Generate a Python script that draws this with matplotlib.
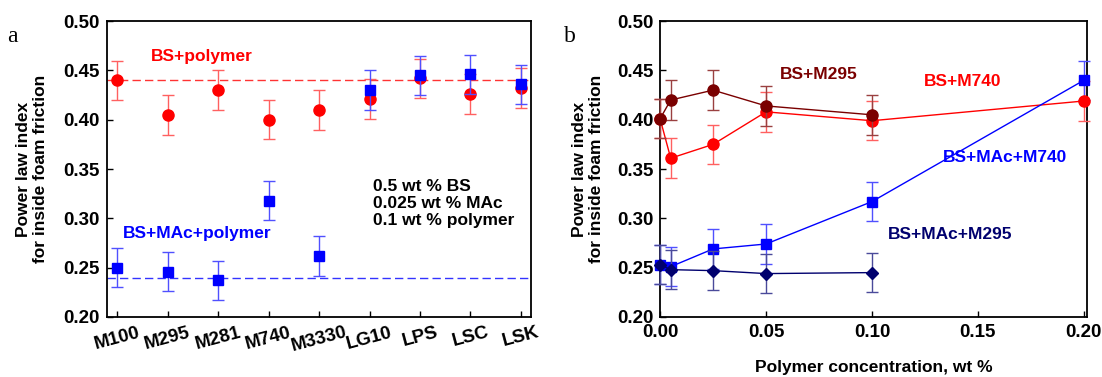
import numpy as np
import matplotlib.pyplot as plt

plt.rcParams['font.family'] = ['Liberation Sans', 'DejaVu Sans']
plt.rcParams['font.weight'] = 'bold'

# panel a
polymers = ['M100', 'M295', 'M281', 'M740', 'M3330', 'LG10', 'LPS', 'LSC', 'LSK']
bs_poly = [0.440, 0.405, 0.430, 0.400, 0.410, 0.421, 0.442, 0.426, 0.432]
bs_mac_poly = [0.250, 0.246, 0.237, 0.318, 0.262, 0.430, 0.445, 0.446, 0.436]
err_a = 0.02
ref_bs = 0.44
ref_bs_mac = 0.24

# panel b
conc = [0.0, 0.005, 0.025, 0.05, 0.10, 0.20]
bs_m295 = [0.401, 0.420, 0.430, 0.414, 0.405]
bs_m740 = [0.401, 0.361, 0.375, 0.408, 0.399, 0.419]
bs_mac_m740 = [0.253, 0.251, 0.269, 0.274, 0.317, 0.440]
bs_mac_m295 = [0.253, 0.248, 0.247, 0.244, 0.245]
err_b = 0.02

RED = '#ff0000'
BLUE = '#0000ff'
DRED = '#7a0000'
NAVY = '#00006e'

fig = plt.figure(figsize=(11.02, 3.77), dpi=100)
ax1 = fig.add_axes([0.0971, 0.1592, 0.3848, 0.7848])
ax2 = fig.add_axes([0.5990, 0.1592, 0.3874, 0.7848])

# ---- panel a
xa = np.arange(len(polymers))
ax1.axhline(ref_bs, color=RED, lw=1, ls=(0, (6, 3)), alpha=0.8, zorder=1)
ax1.axhline(ref_bs_mac, color=BLUE, lw=1, ls=(0, (6, 3)), alpha=0.8, zorder=1)
ax1.errorbar(xa, bs_poly, yerr=err_a, fmt='o', color=RED, ms=8,
             ecolor='#ff6060', elinewidth=1, capsize=4, capthick=1, zorder=3)
ax1.errorbar(xa, bs_mac_poly, yerr=err_a, fmt='s', color=BLUE, ms=7,
             ecolor='#5050ff', elinewidth=1, capsize=4, capthick=1, zorder=4)
ax1.set_xlim(-0.2, 8.2)
ax1.set_ylim(0.2, 0.5)
ax1.set_xticks(xa)
ax1.set_xticklabels(polymers, rotation=15, ha='center')
ax1.set_yticks([0.20, 0.25, 0.30, 0.35, 0.40, 0.45, 0.50])
ax1.set_yticklabels(['%.2f' % v for v in ax1.get_yticks()])
ax1.text(1.68, 0.464, 'BS+polymer', color=RED, fontsize=12.5, fontweight='bold',
         ha='center', va='center')
ax1.text(1.59, 0.285, 'BS+MAc+polymer', color=BLUE, fontsize=12.5, fontweight='bold',
         ha='center', va='center')
ax1.text(5.07, 0.315, '0.5 wt % BS\n0.025 wt % MAc\n0.1 wt % polymer',
         color='black', fontsize=12.5, fontweight='bold', ha='left', va='center',
         linespacing=1.2)
ax1.set_ylabel('Power law index\nfor inside foam friction', fontsize=12.5,
               fontweight='bold', labelpad=11)
ax1.text(-0.235, 0.985, 'a', transform=ax1.transAxes, fontsize=17,
         family='Liberation Serif', fontweight='normal', va='top')

# ---- panel b
kw = dict(lw=1, elinewidth=1, capsize=4, capthick=1, clip_on=False)
ax2.errorbar(conc, bs_m740, yerr=err_b, fmt='-o', color=RED, ms=8,
             ecolor='#ff6060', zorder=3, **kw)
ax2.errorbar(conc[:5], bs_m295, yerr=err_b, fmt='-o', color=DRED, ms=8,
             ecolor='#9a4040', zorder=4, **kw)
ax2.errorbar(conc, bs_mac_m740, yerr=err_b, fmt='-s', color=BLUE, ms=7,
             ecolor='#5050ff', zorder=3, **kw)
ax2.errorbar(conc[:5], bs_mac_m295, yerr=err_b, fmt='-D', color=NAVY, ms=6.5,
             ecolor='#4a4a9a', zorder=4, **kw)
ax2.set_xlim(0.0, 0.2015)
ax2.set_ylim(0.2, 0.5)
ax2.set_xticks([0.0, 0.05, 0.10, 0.15, 0.20])
ax2.set_xticklabels(['0.00', '0.05', '0.10', '0.15', '0.20'])
ax2.set_yticks([0.20, 0.25, 0.30, 0.35, 0.40, 0.45, 0.50])
ax2.set_yticklabels(['%.2f' % v for v in ax2.get_yticks()])
ax2.text(0.0747, 0.446, 'BS+M295', color=DRED, fontsize=12.5, fontweight='bold',
         ha='center', va='center')
ax2.text(0.143, 0.439, 'BS+M740', color=RED, fontsize=12.5, fontweight='bold',
         ha='center', va='center')
ax2.text(0.163, 0.362, 'BS+MAc+M740', color=BLUE, fontsize=12.5, fontweight='bold',
         ha='center', va='center')
ax2.text(0.137, 0.284, 'BS+MAc+M295', color=NAVY, fontsize=12.5, fontweight='bold',
         ha='center', va='center')
ax2.set_ylabel('Power law index\nfor inside foam friction', fontsize=12.5,
               fontweight='bold', labelpad=9)
ax2.set_xlabel('Polymer concentration, wt %', fontsize=12.5, fontweight='bold',
               labelpad=14)
ax2.text(-0.225, 0.985, 'b', transform=ax2.transAxes, fontsize=17,
         family='Liberation Serif', fontweight='normal', va='top')

for ax in (ax1, ax2):
    ax.tick_params(direction='in', length=4, width=1, labelsize=13.5, pad=5)
    for lab in ax.get_xticklabels() + ax.get_yticklabels():
        lab.set_fontweight('bold')
    for s in ax.spines.values():
        s.set_linewidth(1.3)

fig.savefig('out.png', dpi=100)
